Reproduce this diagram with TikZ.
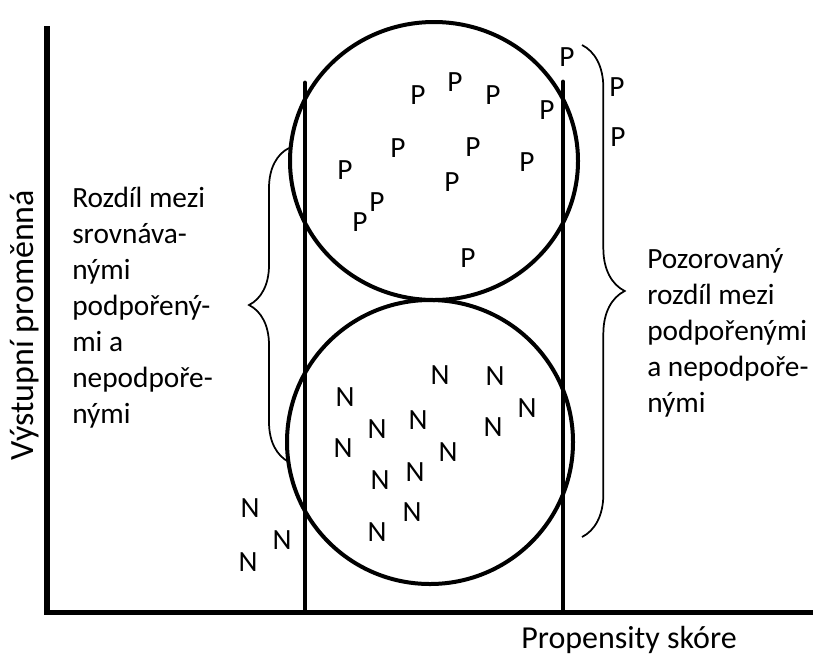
\documentclass[tikz,border=0pt]{standalone}
\usepackage{fontspec}
\setmainfont{Carlito}
\usetikzlibrary{decorations.pathreplacing}

\begin{document}
\begin{tikzpicture}[
  x=0.75pt,y=-0.75pt,
  axis/.style={line width=4.4pt,line join=miter},
  bound/.style={line width=3.7pt,line cap=round},
  group/.style={line width=3pt},
  curly/.style={line width=1.3pt,decorate,decoration={brace,amplitude=#1}},
  sym/.style={font=\fontsize{22}{27}\selectfont,inner sep=0pt},
  txt/.style={font=\fontsize{22}{27}\selectfont,inner sep=0pt,align=left}
]
  \useasboundingbox (0,0) rectangle (813,658);

  % axes and the two bounds of common support
  \draw[axis] (47,26) |- (813,612.5);
  \draw[bound] (305,83) -- (305,612);
  \draw[bound] (563,82) -- (563,612);

  % supported (P) and unsupported (N) groups
  \draw[group] (434,161) ellipse [x radius=144,y radius=139];
  \draw[group] (430,442) ellipse [x radius=143,y radius=142];

  \foreach \px/\py [count=\i] in {567/57,418/95,455/82,493/95,547/110,398/148,473/147,
      527/162,345/170,452/182,377/202,360/222,468/258,617/87,618/137}
    \node[sym] (p\i) at (\px,\py) {P};
  \foreach \nx/\ny [count=\i] in {440/375,495/376,527/408,345/397,418/420,377/429,493/427,
      343/448,448/452,380/480,415/472,412/512,377/532,250/508,282/540,248/562}
    \node[sym] (n\i) at (\nx,\ny) {N};

  % braces
  \coordinate (lbBot) at (289,462);
  \coordinate (lbTop) at (289,148);
  \coordinate (rbTop) at (582,45);
  \coordinate (rbBot) at (582,537);
  \draw[curly=30pt] (lbBot) -- (lbTop);
  \draw[curly=32pt] (rbTop) -- (rbBot);

  \node[txt,anchor=north west] (leftText) at (72,186.5)
    {Rozdíl mezi\\srovnáva-\\nými\\podpořený-\\mi a\\nepodpoře-\\nými};
  \node[txt,anchor=north west] (rightText) at (647,248)
    {Pozorovaný\\rozdíl mezi\\podpořenými\\a nepodpoře-\\nými};

  \node[txt,font=\fontsize{25.5}{30}\selectfont,rotate=90,anchor=base] (yLabel) at (33,325) {Výstupní proměnná};
  \node[txt,font=\fontsize{24}{28}\selectfont,anchor=base] (xLabel) at (629,648) {Propensity skóre};
\end{tikzpicture}
\end{document}
